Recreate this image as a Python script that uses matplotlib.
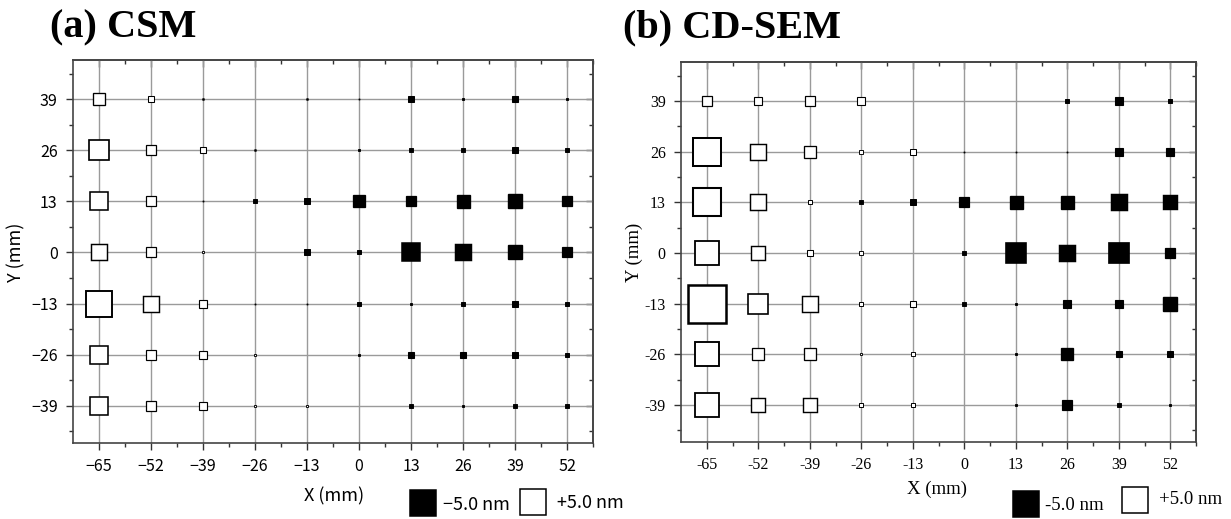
import matplotlib
matplotlib.use("Agg")
import matplotlib.pyplot as plt
from matplotlib.lines import Line2D
from matplotlib.ticker import FixedLocator, FixedFormatter, NullFormatter
import numpy as np

# ---------------- data ----------------
x_pos = [-65, -52, -39, -26, -13, 0, 13, 26, 39, 52]
y_pos = [39, 26, 13, 0, -13, -26, -39]

x_labels_csm = ["\u221265", "\u221252", "\u221239", "\u221226", "\u221213", "0", "13", "26", "39", "52"]
y_labels_csm = ["39", "26", "13", "0", "\u221213", "\u221226", "\u221239"]
x_labels_sem = ["-65", "-52", "-39", "-26", "-13", "0", "13", "26", "39", "52"]
y_labels_sem = ["39", "26", "13", "0", "-13", "-26", "-39"]

# deviation in nm (rows follow y_pos, columns follow x_pos)
csm_y39 = [2.4, 1.2, -0.3, 0.0, -0.3, -0.2, -1.1, -0.5, -1.3, -0.5]
csm_y26 = [4.0, 2.0, 1.3, -0.3, 0.0, -0.5, -0.7, -0.7, -1.1, -0.8]
csm_y13 = [3.5, 1.9, -0.2, -0.8, -1.0, -2.3, -2.1, -2.5, -2.7, -2.1]
csm_y0 = [3.0, 1.9, 0.5, 0.0, -1.0, -0.9, -3.3, -3.0, -2.6, -1.9]
csm_ym13 = [4.9, 2.9, 1.6, -0.2, -0.2, -0.9, -0.4, -0.9, -1.1, -0.9]
csm_ym26 = [3.5, 1.8, 1.6, 0.5, 0.0, -0.4, -1.3, -1.3, -1.0, -0.9]
csm_ym39 = [3.5, 2.0, 1.6, 0.5, 0.5, 0.0, -0.7, -0.5, -0.7, -0.7]

sem_y39 = [2.0, 1.5, 1.9, 1.4, 0.0, 0.0, 0.0, -0.9, -1.4, -0.9]
sem_y26 = [5.3, 2.9, 2.3, 0.7, 1.1, -0.2, -0.2, -0.2, -1.4, -1.6]
sem_y13 = [5.5, 3.0, 0.9, -0.7, -1.0, -1.9, -2.5, -2.5, -3.0, -2.8]
sem_y0 = [4.5, 2.8, 1.2, 0.7, 0.0, -0.7, -3.7, -3.0, -4.0, -2.0]
sem_ym13 = [7.4, 3.8, 2.9, 0.9, 1.2, -0.7, -0.5, -1.5, -1.5, -2.7]
sem_ym26 = [4.8, 2.2, 2.3, 0.5, 0.7, 0.0, -0.5, -2.4, -1.3, -1.1]
sem_ym39 = [4.5, 2.8, 2.8, 0.9, 0.9, 0.0, -0.5, -1.8, -0.7, -0.5]

csm = [csm_y39, csm_y26, csm_y13, csm_y0, csm_ym13, csm_ym26, csm_ym39]
sem = [sem_y39, sem_y26, sem_y13, sem_y0, sem_ym13, sem_ym26, sem_ym39]

legend_value = 5.0
titles = ["(a) CSM", "(b) CD-SEM"]

# ---------------- style ----------------
W, H = 1231, 519
fig = plt.figure(figsize=(W / 100, H / 100), dpi=100)

SANS = ["Noto Sans CJK JP", "DejaVu Sans"]
SERIF = ["Liberation Serif", "DejaVu Serif"]

PX_PER_NM = 5.2
PT = 0.72  # points per pixel


def msize(v):
    return abs(v) * PX_PER_NM * PT


def mew(v):
    return 0.55 + 0.17 * abs(v)


XMINOR = [x + 6.5 for x in x_pos]
YMINOR = [45.5] + [y - 6.5 for y in y_pos]


def draw_panel(rect, data, xlabels, ylabels, family, tick_fs):
    ax = fig.add_axes(rect)
    ax.set_xlim(-71.5, 58.5)
    ax.set_ylim(-48.5, 49.0)
    ax.xaxis.set_major_locator(FixedLocator(x_pos))
    ax.xaxis.set_major_formatter(FixedFormatter(xlabels))
    ax.yaxis.set_major_locator(FixedLocator(y_pos))
    ax.yaxis.set_major_formatter(FixedFormatter(ylabels))
    ax.xaxis.set_minor_locator(FixedLocator(XMINOR))
    ax.yaxis.set_minor_locator(FixedLocator(YMINOR))
    ax.grid(True, which="major", color="#9a9a9a", lw=1.0, zorder=0)
    ax.set_axisbelow(True)
    ax.tick_params(which="both", top=False, right=False, direction="out", color="#333333", width=1.0)
    ax.tick_params(which="major", length=5, pad=6)
    ax.tick_params(which="minor", length=3)
    for lab in ax.get_xticklabels() + ax.get_yticklabels():
        lab.set_family(family)
        lab.set_fontsize(tick_fs)
    for s in ax.spines.values():
        s.set_color("#444444")
        s.set_linewidth(1.2)
    # mirrored inward ticks on top and right
    top = ax.secondary_xaxis("top")
    top.xaxis.set_major_locator(FixedLocator(x_pos))
    top.xaxis.set_minor_locator(FixedLocator(XMINOR))
    top.xaxis.set_major_formatter(NullFormatter())
    top.tick_params(which="both", direction="in", color="#333333", width=1.0)
    top.tick_params(which="major", length=5)
    top.tick_params(which="minor", length=3)
    top.spines["top"].set_color("#444444")
    top.spines["top"].set_linewidth(1.2)
    right = ax.secondary_yaxis("right")
    right.yaxis.set_major_locator(FixedLocator(y_pos))
    right.yaxis.set_minor_locator(FixedLocator(YMINOR))
    right.yaxis.set_major_formatter(NullFormatter())
    right.tick_params(which="both", direction="in", color="#333333", width=1.0)
    right.tick_params(which="major", length=5)
    right.tick_params(which="minor", length=3)
    right.spines["right"].set_color("#444444")
    right.spines["right"].set_linewidth(1.2)
    for j, yv in enumerate(y_pos):
        for i, xv in enumerate(x_pos):
            v = data[j][i]
            if v == 0:
                continue
            face = "black" if v < 0 else "white"
            ax.plot([xv], [yv], marker="s", linestyle="none",
                    markersize=msize(v), markerfacecolor=face,
                    markeredgecolor="black", markeredgewidth=mew(v), zorder=3)
    return ax


ax1 = draw_panel([73 / W, 1 - 443 / H, (593 - 73) / W, (443 - 60) / H],
                 csm, x_labels_csm, y_labels_csm, SANS, 11.5)
ax2 = draw_panel([681 / W, 1 - 442 / H, (1196 - 681) / W, (442 - 62) / H],
                 sem, x_labels_sem, y_labels_sem, SERIF, 11.5)

# titles
fig.text(50 / W, 1 - 28 / H, titles[0], family=SERIF, fontweight="bold",
         fontsize=29, ha="left", va="center")
fig.text(623 / W, 1 - 28 / H, titles[1], family=SERIF, fontweight="bold",
         fontsize=29, ha="left", va="center")

# axis labels
fig.text(334 / W, 1 - 496 / H, "X (mm)", family=SANS, fontsize=13, ha="center", va="center")
fig.text(16 / W, 1 - 252 / H, "Y (mm)", family=SANS, fontsize=13, ha="center", va="center", rotation=90)
fig.text(937 / W, 1 - 489 / H, "X (mm)", family=SERIF, fontsize=13.5, ha="center", va="center")
fig.text(634 / W, 1 - 252 / H, "Y (mm)", family=SERIF, fontsize=13.5, ha="center", va="center", rotation=90)


# legends (squares sized from legend_value)
def legend_square(xc, yc, filled):
    fig.add_artist(Line2D([xc / W], [1 - yc / H], transform=fig.transFigure,
                          marker="s", linestyle="none", markersize=msize(legend_value),
                          markerfacecolor="black" if filled else "white",
                          markeredgecolor="black", markeredgewidth=1.1))


legend_square(423, 503, True)
fig.text(443 / W, 1 - 505 / H, "\u2212%.1f nm" % legend_value, family=SANS, fontsize=13,
         ha="left", va="center")
legend_square(533, 502, False)
fig.text(557 / W, 1 - 503 / H, "+%.1f nm" % legend_value, family=SANS, fontsize=13,
         ha="left", va="center")

legend_square(1026, 504, True)
fig.text(1045 / W, 1 - 505 / H, "-%.1f nm" % legend_value, family=SERIF, fontsize=13.5,
         ha="left", va="center")
legend_square(1135, 500, False)
fig.text(1159 / W, 1 - 500 / H, "+%.1f nm" % legend_value, family=SERIF, fontsize=13.5,
         ha="left", va="center")

fig.savefig("out.png", dpi=100)
